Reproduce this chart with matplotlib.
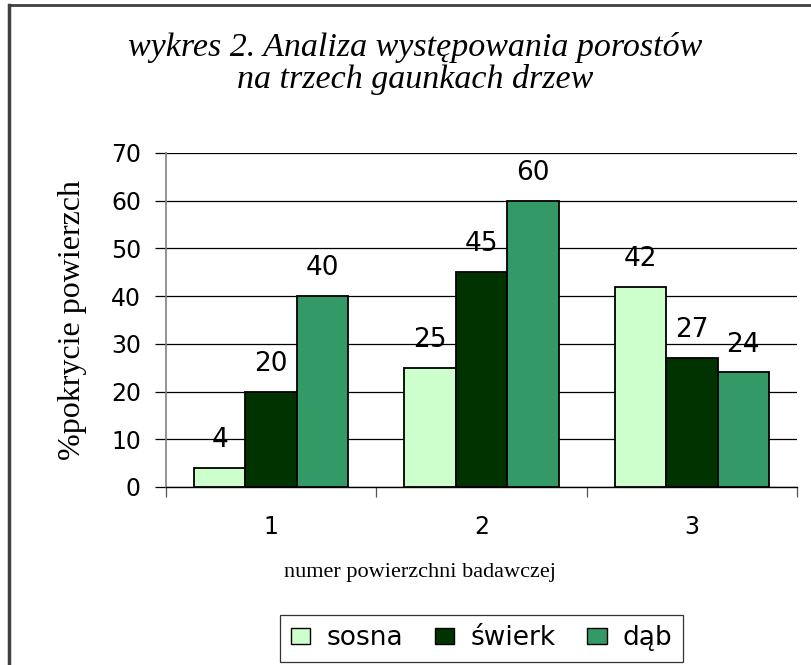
import numpy as np
import matplotlib.pyplot as plt
from matplotlib.lines import Line2D

# dane z wykresu
kategorie = ["1", "2", "3"]
serie = ["sosna", "świerk", "dąb"]
sosna = [4, 25, 42]
swierk = [20, 45, 27]
dab = [40, 60, 24]
kolory = ["#CCFFCC", "#003300", "#339966"]

fig = plt.figure(figsize=(8.12, 6.65), dpi=100)
ax = fig.add_axes([0.2044, 0.2677, 0.7771, 0.5023])

x = np.arange(len(kategorie))
w = 0.245
wartosci = [sosna, swierk, dab]
for i, (nazwa, vals, kol) in enumerate(zip(serie, wartosci, kolory)):
    pos = x + (i - 1) * w
    ax.bar(pos, vals, width=w, color=kol, edgecolor="black", linewidth=1.3,
           label=nazwa, zorder=3)
    for px, v in zip(pos, vals):
        ax.annotate(str(v), (px, v), xytext=(0, 20), textcoords="offset points",
                    ha="center", va="center", fontsize=19, family="DejaVu Sans")

ax.set_xlim(-0.5, 2.5)
ax.set_ylim(0, 70)
ax.set_yticks(range(0, 71, 10))
ax.yaxis.grid(True, color="black", linewidth=0.9, zorder=0)
ax.tick_params(axis="y", labelsize=17, length=8, width=0.9, pad=10)

# podzialki na granicach kategorii, etykiety w srodku
ax.set_xticks([-0.5, 0.5, 1.5, 2.5])
ax.set_xticklabels([])
ax.set_xticks(x, minor=True)
ax.set_xticklabels(kategorie, minor=True, fontsize=17)
ax.tick_params(axis="x", which="major", length=7, width=0.9, color="#555555")
ax.tick_params(axis="x", which="minor", length=0, pad=20)

for s in ["top", "right"]:
    ax.spines[s].set_visible(False)
ax.spines["left"].set_color("#808080")
ax.spines["left"].set_linewidth(1.2)
ax.spines["bottom"].set_color("black")
ax.spines["bottom"].set_linewidth(1.0)

ax.set_ylabel("%pokrycie powierzch", family="Liberation Serif", fontsize=23,
              labelpad=17)
fig.text(0.517, 1 - 572 / 665, "numer powierzchni badawczej",
         ha="center", va="center", family="Liberation Serif", fontsize=16)

fig.text(0.511, 0.905, "wykres 2. Analiza występowania porostów\nna trzech gaunkach drzew",
         ha="center", va="center", family="Liberation Serif", style="italic",
         fontsize=24.5, linespacing=1.05)

leg = fig.legend(loc="center", bbox_to_anchor=(0.593, 0.040), ncol=3,
                 fontsize=19, frameon=True, fancybox=False, edgecolor="black",
                 handlelength=0.75, handleheight=0.6, handletextpad=0.6,
                 columnspacing=1.2, borderpad=0.4, borderaxespad=0)
leg.get_frame().set_linewidth(0.9)
for h in leg.legend_handles:
    h.set_linewidth(1.0)

# ramka wykresu
fig.add_artist(Line2D([0.0105, 0.0105], [0, 0.993], transform=fig.transFigure,
                      color="#404040", linewidth=2.5))
fig.add_artist(Line2D([0.0105, 1.0], [0.993, 0.993], transform=fig.transFigure,
                      color="#404040", linewidth=2.0))

fig.savefig("out.png", dpi=100)
